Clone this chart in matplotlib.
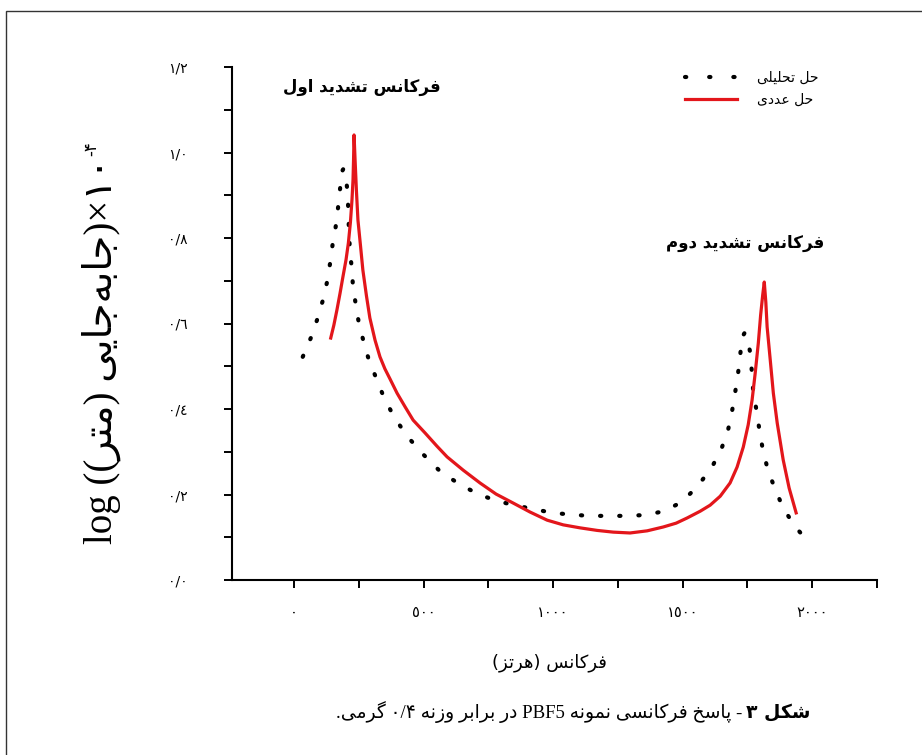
import re
import matplotlib
matplotlib.use('Agg')
import matplotlib.pyplot as plt
from matplotlib.lines import Line2D
from matplotlib.patches import Rectangle

# presentation forms: isolated, final, initial, medial (None = right-joining only)
FORMS = {
    'ا': ('\uFE8D', '\uFE8E', None, None),
    'ب': ('\uFE8F', '\uFE90', '\uFE91', '\uFE92'),
    'پ': ('\uFB56', '\uFB57', '\uFB58', '\uFB59'),
    'ت': ('\uFE95', '\uFE96', '\uFE97', '\uFE98'),
    'ج': ('\uFE9D', '\uFE9E', '\uFE9F', '\uFEA0'),
    'ح': ('\uFEA1', '\uFEA2', '\uFEA3', '\uFEA4'),
    'خ': ('\uFEA5', '\uFEA6', '\uFEA7', '\uFEA8'),
    'د': ('\uFEA9', '\uFEAA', None, None),
    'ر': ('\uFEAD', '\uFEAE', None, None),
    'ز': ('\uFEAF', '\uFEB0', None, None),
    'س': ('\uFEB1', '\uFEB2', '\uFEB3', '\uFEB4'),
    'ش': ('\uFEB5', '\uFEB6', '\uFEB7', '\uFEB8'),
    'ع': ('\uFEC9', '\uFECA', '\uFECB', '\uFECC'),
    'ف': ('\uFED1', '\uFED2', '\uFED3', '\uFED4'),
    'ک': ('\uFB8E', '\uFB8F', '\uFB90', '\uFB91'),
    'گ': ('\uFB92', '\uFB93', '\uFB94', '\uFB95'),
    'ل': ('\uFEDD', '\uFEDE', '\uFEDF', '\uFEE0'),
    'م': ('\uFEE1', '\uFEE2', '\uFEE3', '\uFEE4'),
    'ن': ('\uFEE5', '\uFEE6', '\uFEE7', '\uFEE8'),
    'ه': ('\uFEE9', '\uFEEA', '\uFEEB', '\uFEEC'),
    'و': ('\uFEED', '\uFEEE', None, None),
    'ی': ('\uFBFC', '\uFBFD', '\uFBFE', '\uFBFF'),
}


def shape(text):
    out = []
    for i, c in enumerate(text):
        if c not in FORMS:
            out.append(c)
            continue
        prev = text[i - 1] if i > 0 else None
        nxt = text[i + 1] if i + 1 < len(text) else None
        join_prev = prev in FORMS and FORMS[prev][2] is not None
        join_next = nxt in FORMS and FORMS[c][2] is not None
        iso, fin, ini, med = FORMS[c]
        if join_prev and join_next:
            out.append(med)
        elif join_prev:
            out.append(fin)
        elif join_next:
            out.append(ini)
        else:
            out.append(iso)
    return ''.join(out).replace('\u200c', '')


def fa(text):
    """شکل‌دهی و ترتیب نمایشی راست به چپ"""
    s = shape(text)
    tokens = re.findall(r'[A-Za-z0-9\u0660-\u0669\u06F0-\u06F9]+(?:[./][0-9\u0660-\u0669\u06F0-\u06F9]+)*|.', s)
    mirror = {'(': ')', ')': '('}
    return ''.join(mirror.get(t, t) for t in reversed(tokens))


# داده‌ها (خوانده شده از تصویر)
freq_analytic = [34, 65, 89, 111, 127, 139, 149, 161, 170, 178, 185, 191, 200, 207, 210, 212,
                 216, 223, 228, 239, 251, 270, 290, 317, 348, 386, 436, 497, 566, 637, 710,
                 783, 850, 923, 999, 1070, 1139, 1212, 1285, 1355, 1429, 1498, 1560, 1614,
                 1651, 1676, 1691, 1703, 1714, 1722, 1730, 1739, 1750, 1761, 1767, 1772,
                 1784, 1795, 1807, 1829, 1857, 1888, 1934, 1995]
disp_analytic = [0.522, 0.566, 0.608, 0.653, 0.695, 0.739, 0.784, 0.826, 0.870, 0.915, 0.955,
                 0.962, 0.947, 0.905, 0.862, 0.819, 0.772, 0.730, 0.686, 0.643, 0.599, 0.555,
                 0.513, 0.473, 0.426, 0.382, 0.337, 0.295, 0.253, 0.225, 0.201, 0.185, 0.175,
                 0.166, 0.157, 0.153, 0.150, 0.150, 0.150, 0.152, 0.161, 0.183, 0.221, 0.265,
                 0.309, 0.353, 0.396, 0.440, 0.484, 0.526, 0.568, 0.578, 0.565, 0.531, 0.487,
                 0.444, 0.400, 0.356, 0.313, 0.256, 0.213, 0.168, 0.125, 0.082]

freq_numeric = [142, 154, 166, 178, 189, 201, 210, 218, 224, 228, 230, 232,
                236, 241, 247, 257, 266, 280, 293, 313, 332, 351, 371, 398, 429, 460,
                506, 552, 591, 653, 718, 780, 846, 911, 977, 1039, 1104, 1170, 1232,
                1297, 1363, 1425, 1475, 1517, 1568, 1606, 1645, 1683, 1710, 1734, 1753,
                1768, 1780, 1792, 1801, 1809, 1815, 1821, 1826, 1838, 1850, 1865, 1888,
                1911, 1938]
disp_numeric = [0.566, 0.596, 0.632, 0.671, 0.709, 0.749, 0.788, 0.837, 0.889, 0.936, 0.982, 1.041,
                0.982, 0.912, 0.842, 0.781, 0.725, 0.664, 0.613, 0.561, 0.522, 0.494, 0.470,
                0.437, 0.405, 0.374, 0.344, 0.313, 0.288, 0.257, 0.227, 0.201, 0.180, 0.159,
                0.140, 0.129, 0.122, 0.116, 0.112, 0.110, 0.115, 0.124, 0.133, 0.145, 0.161,
                0.175, 0.196, 0.227, 0.264, 0.311, 0.363, 0.421, 0.484, 0.554, 0.620, 0.667,
                0.697, 0.650, 0.592, 0.515, 0.437, 0.367, 0.281, 0.215, 0.157]

x_ticks = [0, 500, 1000, 1500, 2000]
x_ticklabels = ['٠', '٥٠٠', '١٠٠٠', '١٥٠٠', '٢٠٠٠']
y_ticks = [0.0, 0.2, 0.4, 0.6, 0.8, 1.0, 1.2]
y_ticklabels = ['٠/٠', '٠/٢', '٠/٤', '٠/٦', '٠/٨', '١/٠', '١/٢']

W, H = 922, 755
fig = plt.figure(figsize=(W / 100, H / 100), dpi=100)
fig.patch.set_facecolor('white')

ax = fig.add_axes([232 / W, 1 - 580 / H, (877 - 232) / W, (580 - 67) / H])
red = '#e3161b'
ax.plot(freq_analytic, disp_analytic, color='black', lw=3, linestyle=(0, (0.3, 4.3)),
        dash_capstyle='round', label=fa('حل تحلیلی'))
ax.plot(freq_numeric, disp_numeric, color=red, lw=2.3, label=fa('حل عددی'))

ax.set_xlim(-239, 2250)
ax.set_ylim(0, 1.2)
ax.set_xticks(x_ticks)
ax.set_xticklabels(x_ticklabels, fontsize=10.5, family='DejaVu Sans')
ax.set_xticks([250, 750, 1250, 1750, 2250], minor=True)
ax.set_yticks(y_ticks)
ax.set_yticklabels(y_ticklabels, fontsize=10, family='DejaVu Sans')
ax.set_yticks([0.1, 0.3, 0.5, 0.7, 0.9, 1.1], minor=True)
ax.tick_params(which='both', direction='out', length=6, width=1.4)
ax.tick_params(axis='x', which='major', pad=12)
ax.tick_params(axis='y', which='major', pad=26)
for s in ['top', 'right']:
    ax.spines[s].set_visible(False)
for s in ['left', 'bottom']:
    ax.spines[s].set_linewidth(1.5)

# برچسب‌های متنی روی نمودار
ax.text(362 / W, 1 - 87 / H, fa('فرکانس تشدید اول'), transform=fig.transFigure,
        ha='center', va='center', fontsize=12, fontweight='bold', family='DejaVu Sans')
ax.text(745 / W, 1 - 243 / H, fa('فرکانس تشدید دوم'), transform=fig.transFigure,
        ha='center', va='center', fontsize=12, fontweight='bold', family='DejaVu Sans')

handles = [Line2D([], [], color='black', lw=3, linestyle=(0, (0.3, 5.5)), dash_capstyle='round'),
           Line2D([], [], color=red, lw=2.3)]
fig.legend(handles, [fa('حل تحلیلی'), fa('حل عددی')], loc='upper left',
           bbox_to_anchor=(672 / W, 1 - 58 / H), frameon=False, handlelength=3.8,
           handletextpad=1.4, labelspacing=0.6, prop={'family': 'DejaVu Sans', 'size': 10})

fig.text(549 / W, 1 - 663 / H, fa('فرکانس (هرتز)'), ha='center', va='center',
         fontsize=13, family='DejaVu Sans')

ylab = fig.text(101 / W, 1 - 351 / H, 'log (' + fa('جابه\u200cجایی (متر)') + ')×۱۰',
                rotation=90, ha='center', va='center', fontsize=28,
                family=['Liberation Serif', 'DejaVu Sans'])

# عنوان شکل
cap = fig.text(0, 1 - 712 / H, fa('- پاسخ فرکانسی نمونه PBF5 در برابر وزنه ۰/۴ گرمی.'),
               ha='right', va='center', fontsize=13.5, family=['Liberation Serif', 'DejaVu Sans'])
capb = fig.text(810 / W, 1 - 712 / H, fa('شکل ۳'), ha='right', va='center', fontsize=13.5,
                fontweight='bold', family='DejaVu Sans')

fig.add_artist(Rectangle((6 / W, -0.1), 1.2, 1.1 - 11 / H, transform=fig.transFigure,
                         fill=False, lw=1.0, edgecolor='#333333'))

fig.canvas.draw()
r = fig.canvas.get_renderer()
bb = capb.get_window_extent(r)
cap.set_x((bb.x0 - 3) / W)
lb = ylab.get_window_extent(r)
fig.text((lb.x0 + 1) / W, (lb.y1 + 2) / H, '-۴', rotation=90, ha='left', va='bottom',
         fontsize=12, family='DejaVu Sans')

fig.savefig('out.png', dpi=100, facecolor='white')
